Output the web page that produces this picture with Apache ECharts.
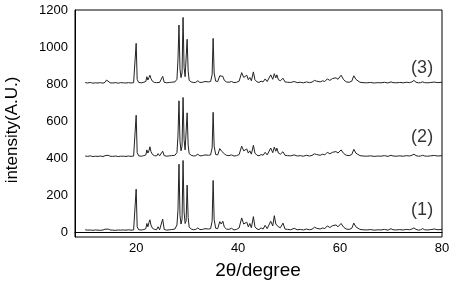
<!DOCTYPE html>
<html>
<head>
<meta charset="utf-8">
<script src="https://cdn.jsdelivr.net/npm/echarts@6/dist/echarts.min.js"></script>
<style>
  html, body { margin: 0; padding: 0; background: #fff; }
  #chart { width: 453px; height: 285px; }
</style>
</head>
<body>
<div id="chart"></div>
<script>
// 2θ positions shared by all three patterns
const twoTheta = [
  10, 10.5, 11, 11.5, 12, 12.5, 13, 13.5, 13.9, 14.2,
  14.5, 14.9, 15.4, 16, 16.5, 16.9, 17.2, 17.5, 18, 18.5,
  19, 19.5, 19.8, 20.0, 20.2, 20.5, 21, 21.5, 21.9, 22.1,
  22.3, 22.5, 22.7, 22.9, 23.2, 23.6, 24, 24.3, 24.6, 24.9,
  25.2, 25.5, 26, 26.5, 26.9, 27.2, 27.6, 28.0, 28.2, 28.4,
  28.6, 28.8, 29.0, 29.2, 29.4, 29.6, 29.8, 30.0, 30.2, 30.4,
  30.8, 31.3, 31.7, 32.1, 32.5, 33.0, 33.5, 33.8, 34.2, 34.6,
  34.9, 35.1, 35.3, 35.6, 36.0, 36.4, 36.7, 37.0, 37.3, 37.7,
  38.2, 38.7, 39.2, 39.7, 40.2, 40.7, 41.1, 41.4, 41.7, 42.0,
  42.3, 42.6, 43.0, 43.3, 43.7, 44.1, 44.5, 44.9, 45.3, 45.7,
  46.0, 46.4, 46.8, 47.1, 47.4, 47.6, 47.9, 48.3, 48.8, 49.2,
  49.7, 50.3, 51.0, 51.6, 52.2, 52.8, 53.4, 54.0, 54.5, 55.0,
  55.4, 55.7, 56.1, 56.6, 57.0, 57.5, 58.0, 58.5, 59.2, 59.6,
  60.2, 60.7, 61.2, 61.8, 62.3, 62.7, 63.1, 63.4, 63.9, 64.5,
  65.2, 66.0, 66.7, 67.4, 68.0, 68.7, 69.4, 70.0, 70.4, 71.0,
  71.7, 72.4, 73.0, 73.6, 74.1, 74.5, 74.9, 75.4, 75.8, 76.2,
  76.6, 77.2, 77.8, 78.5, 79.2, 80
];

const pattern1 = [
  14, 12, 13, 11, 13, 12, 11, 13, 17, 26,
  18, 13, 12, 11, 13, 12, 20, 13, 12, 14,
  12, 13, 18, 233, 30, 14, 13, 15, 20, 48,
  30, 52, 68, 40, 22, 16, 14, 30, 14, 13,
  72, 16, 12, 14, 15, 22, 18, 40, 120, 368,
  90, 45, 70, 388, 110, 48, 60, 255, 80, 28,
  18, 14, 16, 24, 15, 16, 20, 30, 18, 20,
  60, 280, 70, 22, 20, 58, 45, 60, 28, 18,
  16, 22, 13, 16, 24, 78, 45, 40, 55, 30,
  48, 25, 85, 30, 18, 15, 24, 18, 38, 20,
  28, 60, 35, 90, 45, 50, 30, 25, 50, 18,
  16, 14, 22, 14, 16, 13, 18, 14, 17, 28,
  22, 30, 18, 24, 20, 35, 26, 36, 40, 30,
  48, 28, 18, 16, 22, 50, 30, 25, 16, 14,
  13, 15, 12, 14, 13, 16, 12, 20, 14, 13,
  15, 13, 16, 14, 18, 24, 16, 12, 14, 20,
  14, 13, 15, 18, 14, 16
];

const pattern2 = [
  412, 410, 413, 409, 411, 410, 412, 409, 414, 424,
  416, 411, 410, 412, 409, 411, 418, 411, 410, 412,
  410, 412, 418, 632, 430, 413, 411, 414, 418, 445,
  428, 440, 462, 436, 420, 414, 412, 425, 413, 411,
  438, 414, 411, 413, 414, 420, 416, 430, 520, 710,
  490, 440, 465, 728, 500, 445, 455, 645, 470, 425,
  416, 412, 414, 422, 413, 414, 418, 428, 416, 418,
  455, 648, 465, 420, 418, 452, 440, 448, 424, 416,
  414, 418, 412, 414, 420, 465, 440, 438, 450, 428,
  440, 422, 470, 428, 416, 413, 420, 416, 432, 418,
  424, 455, 430, 460, 438, 455, 428, 422, 435, 416,
  414, 413, 418, 412, 414, 411, 416, 412, 415, 424,
  420, 428, 416, 422, 418, 432, 424, 432, 436, 428,
  445, 426, 416, 414, 420, 448, 428, 422, 414, 412,
  411, 413, 410, 412, 411, 414, 410, 416, 412, 411,
  413, 411, 414, 412, 416, 422, 414, 411, 412, 416,
  412, 411, 413, 415, 412, 414
];

const pattern3 = [
  808, 806, 809, 805, 807, 806, 808, 805, 810, 822,
  812, 807, 806, 808, 805, 808, 815, 807, 806, 808,
  806, 808, 814, 1020, 825, 809, 807, 810, 815, 840,
  822, 835, 848, 830, 815, 809, 808, 818, 809, 807,
  842, 810, 807, 809, 810, 816, 812, 826, 930, 1119,
  880, 835, 860, 1160, 890, 840, 850, 1042, 870, 820,
  812, 808, 810, 818, 809, 810, 814, 824, 812, 814,
  850, 1047, 860, 816, 814, 845, 838, 842, 820, 812,
  810, 814, 808, 810, 816, 862, 836, 834, 848, 824,
  836, 818, 866, 824, 812, 809, 816, 812, 828, 814,
  820, 850, 826, 856, 834, 850, 824, 818, 832, 812,
  810, 809, 814, 808, 810, 807, 812, 808, 811, 820,
  816, 824, 812, 818, 814, 828, 820, 830, 834, 826,
  848, 824, 812, 810, 816, 845, 826, 818, 810, 808,
  807, 809, 806, 808, 807, 810, 806, 812, 808, 807,
  809, 807, 810, 808, 812, 820, 810, 807, 808, 812,
  808, 807, 809, 811, 808, 810
];

const xTicks = [20, 40, 60, 80];
const yTicks = [0, 200, 400, 600, 800, 1000, 1200];

// curve labels: [2θ, intensity, text]
const curveLabels = [
  [76.1, 121, "(1)"],
  [76.1, 515, "(2)"],
  [76.1, 887, "(3)"]
];

const FONT = "'Liberation Sans', Arial, sans-serif";

const chart = echarts.init(document.getElementById("chart"), null, { renderer: "canvas" });

const makeLine = (values) => ({
  type: "line",
  data: twoTheta.map((t, i) => [t, values[i]]),
  showSymbol: false,
  symbol: "none",
  smooth: false,
  lineStyle: { color: "#222", width: 1 },
  silent: true,
  animation: false,
});

chart.setOption({
  backgroundColor: "#fff",
  animation: false,
  grid: {
    left: 75,
    right: 11,
    top: 10,
    bottom: 48,
    show: true,
    borderColor: "#000",
    borderWidth: 1,
    containLabel: false,
  },
  xAxis: {
    type: "value",
    min: 8,
    max: 80,
    axisLine: { show: true, lineStyle: { color: "#000", width: 1 } },
    axisTick: { show: false },
    splitLine: { show: false },
    axisLabel: {
      customValues: xTicks,
      formatter: (v) => String(v),
      color: "#000",
      fontFamily: FONT,
      fontSize: 13,
      margin: 5,
    },
  },
  yAxis: {
    type: "value",
    min: -25,
    max: 1200,
    axisLine: { show: true, lineStyle: { color: "#000", width: 1 } },
    axisTick: { show: false },
    splitLine: { show: false },
    axisLabel: {
      customValues: yTicks,
      formatter: (v) => String(v),
      color: "#000",
      fontFamily: FONT,
      fontSize: 13,
      margin: 7,
    },
  },
  graphic: [
    {
      type: "text",
      x: 12,
      y: 130,
      rotation: Math.PI / 2,
      style: {
        text: "intensity(A.U.)",
        font: "17px " + FONT,
        fill: "#000",
        align: "center",
        verticalAlign: "middle",
      },
    },
    {
      type: "text",
      x: 258,
      y: 271,
      style: {
        text: "2θ/degree",
        font: "19px " + FONT,
        fill: "#000",
        align: "center",
        verticalAlign: "middle",
      },
    },
  ],
  series: [
    makeLine(pattern1),
    makeLine(pattern2),
    makeLine(pattern3),
    {
      type: "scatter",
      data: curveLabels.map((d) => [d[0], d[1], d[2]]),
      symbolSize: 0,
      silent: true,
      label: {
        show: true,
        position: "inside",
        formatter: (p) => p.data[2],
        color: "#000",
        fontFamily: FONT,
        fontSize: 18,
      },
    },
  ],
});
</script>
</body>
</html>
